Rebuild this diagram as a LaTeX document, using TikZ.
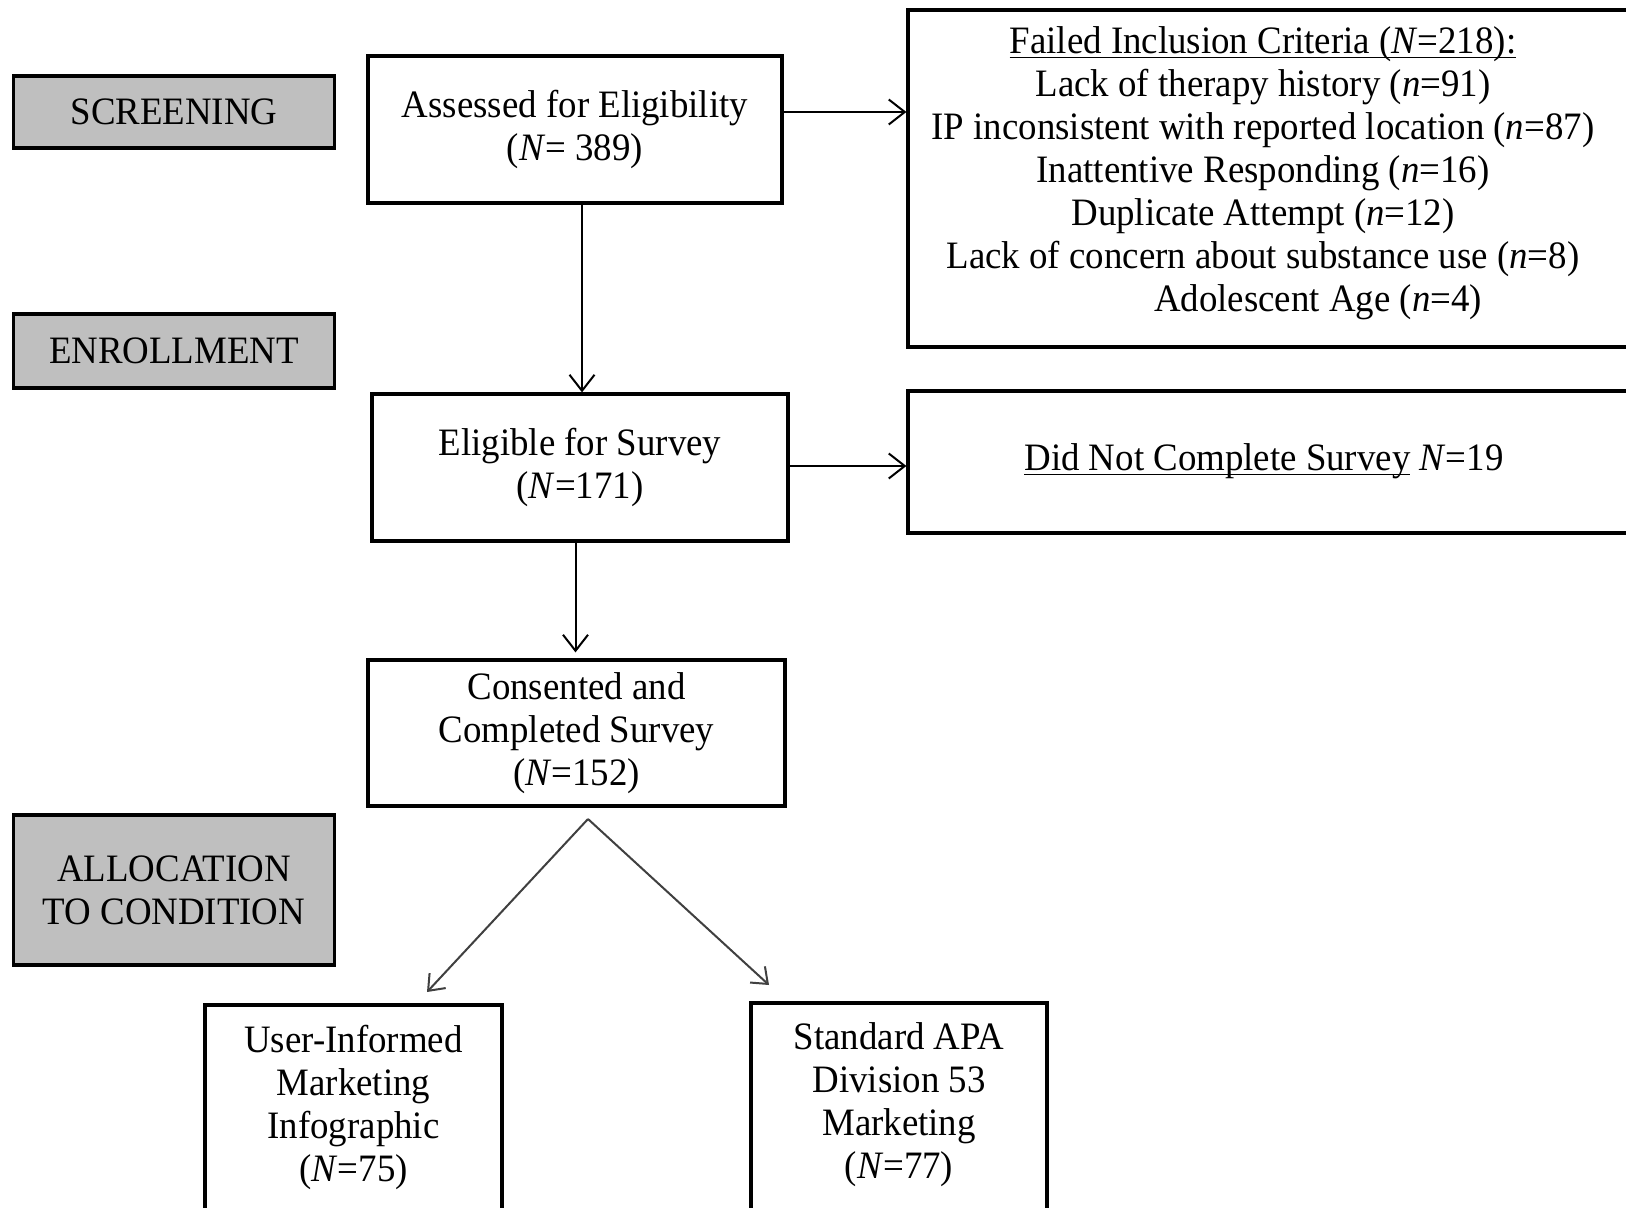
\documentclass[tikz,border=0pt]{standalone}
\usepackage{fontspec}
\setmainfont{Liberation Serif}[FakeStretch=0.95]
\usetikzlibrary{arrows.meta}
\definecolor{phasegray}{RGB}{191,191,191}
% underline set just below the baseline
\newcommand\ulin[1]{\setbox0\hbox{#1}\rlap{\rule[-2.6pt]{\wd0}{0.9pt}}\box0\relax}
\begin{document}
\begin{tikzpicture}[x=0.5pt,y=-0.5pt,
  every node/.style={font=\fontsize{19.4pt}{21.5pt}\selectfont, align=center, inner sep=0pt},
  phase/.style={draw, line width=1.6pt, fill=phasegray, minimum width=160.5pt},
  stepbox/.style={draw, line width=1.6pt, fill=white},
  arr/.style={line width=1pt, -{Straight Barb[length=8pt,width=12.5pt,line width=1pt]}},
  splitarr/.style={line width=1pt, draw=black!75, -{Straight Barb[length=7pt,width=11pt,line width=1pt]}}
]
\clip (0,0) rectangle (1626,1208);
\fill[white] (0,0) rectangle (1626,1208);

% phase labels on the left
\node[phase, minimum height=36pt] (screening) at (174,112) {SCREENING};
\node[phase, minimum height=37pt] (enrollment) at (174,351) {ENROLLMENT};
\node[phase, minimum height=75pt] (allocation) at (174,890) {ALLOCATION\\TO CONDITION};

% main flow
\node[stepbox, minimum width=207pt, minimum height=73.5pt] (assessed) at (575,129.5)
  {Assessed for Eligibility\\(\textit{N}= 389)};
\node[stepbox, minimum width=208pt, minimum height=73.5pt] (eligible) at (580,467.5)
  {Eligible for Survey\\(\textit{N}=171)};
\node[stepbox, minimum width=208.5pt, minimum height=73pt] (consented) at (576.5,733)
  {Consented and\\Completed Survey\\(\textit{N}=152)};

% exclusion boxes (running past the right edge)
\node[stepbox, minimum width=361pt, minimum height=168.5pt] (failed) at (1269,178.5) {};
\node (failedtext) at (1263,173)
  {\ulin{Failed Inclusion Criteria (\textit{N}=218):}\\
   Lack of therapy history (\textit{n}=91)\\
   IP inconsistent with reported location (\textit{n}=87)\\
   Inattentive Responding (\textit{n}=16)\\
   Duplicate Attempt (\textit{n}=12)\\
   Lack of concern about substance use (\textit{n}=8)\\
   \hspace*{55pt}Adolescent Age (\textit{n}=4)};
\node[stepbox, minimum width=361pt, minimum height=71pt] (didnot) at (1269,462) {};
\node (didnottext) at (1264,461) {\ulin{Did Not Complete Survey} \textit{N}=19};

% condition boxes (running past the bottom edge)
\node[stepbox, minimum width=148.5pt, minimum height=117.5pt] (userbox) at (353.5,1122.5) {};
\node (usertext) at (353.5,1107)
  {User-Informed\\Marketing\\Infographic\\(\textit{N}=75)};
\node[stepbox, minimum width=148pt, minimum height=118.5pt] (stdbox) at (899,1121.5) {};
\node (stdtext) at (899,1105)
  {Standard APA\\Division 53\\Marketing\\(\textit{N}=77)};

% connectors
\draw[arr] ([xshift=3.5pt]assessed.south) -- ([xshift=3.5pt]assessed.south |- eligible.north);
\draw[arr] (assessed.east |- 0,112) -- (failed.west |- 0,112);
\draw[arr] (eligible.east |- 0,466) -- (didnot.west |- 0,466);
\draw[arr, shorten >=3pt] ([xshift=-2.25pt]eligible.south) -- ([xshift=-2.25pt]eligible.south |- consented.north);

\coordinate (split) at (588,819);
\coordinate (leftend) at (427,992);
\coordinate (rightend) at (769,985);
\draw[splitarr] (split) -- (leftend);
\draw[splitarr] (split) -- (rightend);
\end{tikzpicture}
\end{document}
